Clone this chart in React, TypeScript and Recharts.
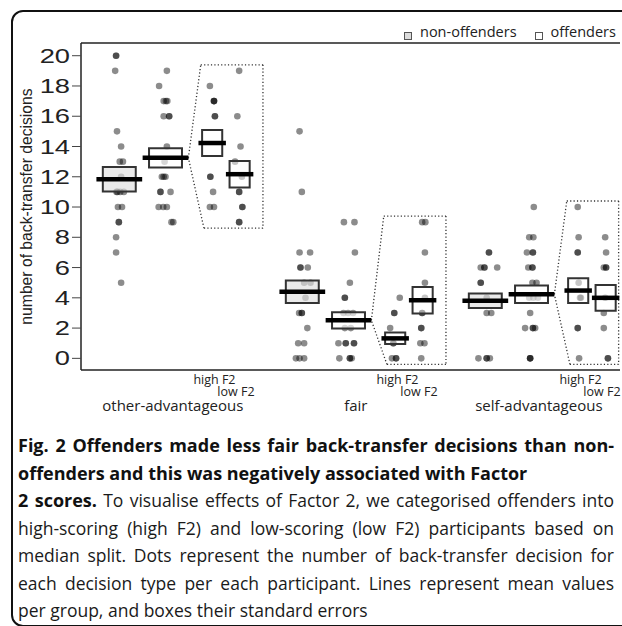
import React from 'react';
import { ScatterChart, Scatter, XAxis, YAxis, ReferenceArea, ReferenceLine } from 'recharts';

// decision types along the x axis, four columns inside each
const decisionTypes = ['other-advantageous', 'fair', 'self-advantageous'];
const groupNames = ['non-offenders', 'offenders', 'high F2', 'low F2'];
const groupOffsets = [0, 1.01, 2.03, 2.63];
const typeSpacing = 4;
const typeLabelOffset = 1.17;
const highLabelShift = 0.05;
const lowLabelShift = -0.08;

const yTicks = [0, 2, 4, 6, 8, 10, 12, 14, 16, 18, 20];
const X_MIN = -0.837;
const X_MAX = 10.944;
const Y_MIN = -0.77;
const Y_MAX = 20.84;

// group means and standard errors: [non-offenders, offenders, high F2, low F2]
const meansOther = [11.83, 13.25, 14.23, 12.17];
const seOther = [0.81, 0.64, 0.86, 0.88];
const meansFair = [4.4, 2.51, 1.32, 3.84];
const seFair = [0.75, 0.53, 0.38, 0.88];
const meansSelf = [3.8, 4.23, 4.48, 4.0];
const seSelf = [0.48, 0.58, 0.82, 0.85];

// participant dots, [x position, number of decisions]
const otherNon = [[-0.07, 20], [-0.07, 20], [-0.09, 19], [-0.05, 15], [0.04, 14], [0.01, 13], [0.08, 13], [0.04, 12], [-0.06, 11], [-0.04, 11], [0.02, 11], [0.1, 11], [-0.03, 10], [0.06, 10], [-0.01, 9], [-0.01, 9], [-0.07, 8], [-0.07, 7], [0.04, 5]];
const otherOff = [[1.04, 19], [0.87, 18], [0.97, 17], [1.02, 17], [1.05, 17], [0.97, 16], [1.09, 16], [1.09, 16], [1.04, 14], [0.99, 13], [0.93, 12], [0.97, 12], [1.01, 12], [0.9, 11], [0.9, 11], [1.12, 11], [0.86, 10], [0.96, 10], [1.04, 10], [1.14, 9], [1.18, 9]];
const otherHigh = [[1.98, 18], [2.07, 17], [2.07, 17], [2.07, 17], [2.09, 16], [2.09, 16], [1.99, 12], [1.99, 12], [2.05, 11], [1.98, 10], [2.07, 10]];
const otherLow = [[2.62, 19], [2.58, 16], [2.65, 14], [2.53, 13], [2.68, 12], [2.62, 11], [2.62, 11], [2.69, 10], [2.69, 10], [2.62, 9], [2.62, 9]];

const fairNon = [[3.94, 15], [3.99, 11], [3.94, 7], [4.17, 7], [3.96, 6], [3.96, 6], [4.12, 6], [4.04, 5], [4.18, 5], [4.07, 4], [3.93, 3], [3.99, 3], [3.99, 3], [4.11, 2], [3.91, 1], [4.04, 1], [3.86, 0], [3.94, 0], [4.04, 0]];
const fairOff = [[4.91, 9], [5.14, 9], [5.15, 7], [5.04, 5], [4.93, 4], [4.93, 4], [4.9, 3], [5.0, 3], [5.11, 3], [4.93, 2], [5.06, 2], [4.79, 1], [4.95, 1], [4.95, 1], [5.13, 1], [5.13, 1], [4.81, 0], [5.04, 0], [5.04, 0], [5.08, 0]];
const fairHigh = [[6.13, 4], [6.01, 3], [6.01, 3], [5.92, 2], [5.99, 1], [5.99, 1], [5.96, 0], [6.05, 0], [6.05, 0]];
const fairLow = [[6.62, 9], [6.69, 9], [6.68, 7], [6.68, 5], [6.68, 4], [6.62, 3], [6.62, 3], [6.6, 2], [6.6, 2], [6.58, 1], [6.67, 1], [6.6, 0]];

const selfNon = [[8.08, 7], [8.08, 7], [7.9, 6], [7.98, 6], [7.98, 6], [8.26, 6], [7.9, 5], [7.9, 5], [8.03, 4], [8.03, 3], [8.13, 3], [7.85, 0], [8.03, 0], [8.03, 0], [8.1, 0]];
const selfOff = [[9.06, 10], [8.96, 8], [9.05, 8], [8.91, 7], [9.04, 7], [9.04, 7], [8.94, 6], [9.03, 6], [9.03, 6], [9.03, 5], [9.12, 5], [8.96, 4], [9.05, 4], [9.15, 4], [8.98, 3], [8.87, 2], [9.04, 2], [9.04, 2], [9.09, 2], [8.98, 0], [8.98, 0], [8.98, 0]];
const selfHigh = [[10.02, 10], [10.04, 8], [10.02, 7], [10.02, 7], [10.04, 5], [10.07, 4], [10.09, 4], [10.02, 2], [10.02, 2], [10.05, 0]];
const selfLow = [[10.62, 8], [10.64, 7], [10.59, 6], [10.64, 6], [10.64, 6], [10.62, 4], [10.59, 3], [10.59, 2], [10.68, 0], [10.68, 0]];

const types = [
  { dots: [otherNon, otherOff, otherHigh, otherLow], means: meansOther, se: seOther },
  { dots: [fairNon, fairOff, fairHigh, fairLow], means: meansFair, se: seFair },
  { dots: [selfNon, selfOff, selfHigh, selfLow], means: meansSelf, se: seSelf },
];

const legendItems = [
  { name: groupNames[0], fill: '#dcdcdc' },
  { name: groupNames[1], fill: '#ffffff' },
];

// x axis labels: high F2 / low F2 under the split columns, type name below
const xLabels: { x: number; text: string; row: number }[] = [];
decisionTypes.forEach((t, i) => {
  xLabels.push({ x: i * typeSpacing + groupOffsets[2] + highLabelShift, text: groupNames[2], row: 0 });
  xLabels.push({ x: i * typeSpacing + groupOffsets[3] + lowLabelShift, text: groupNames[3], row: 1 });
  xLabels.push({ x: i * typeSpacing + typeLabelOffset, text: t, row: 2 });
});

const SANS = '"Open Sans", "Noto Sans", sans-serif';
const ARIAL = '"Liberation Sans", Arial, sans-serif';

const Dot = (props: any) => (
  <circle cx={props.cx} cy={props.cy} r={3.3} fill="#000" fillOpacity={0.45} />
);

const YTick = (props: any) => {
  const { x, y, payload } = props;
  return (
    <g transform={`translate(${x},${y})`}>
      <text transform="scale(1.4,1)" textAnchor="end" dy="0.36em" fontSize={19.5} fontFamily={ARIAL} fill="#222">
        {payload.value}
      </text>
    </g>
  );
};

const XTick = (props: any) => {
  const { x, y, payload } = props;
  const lab = xLabels.find(l => Math.abs(l.x - payload.value) < 1e-6);
  if (!lab) return <g />;
  const dy = lab.row === 0 ? 13.5 : lab.row === 1 ? 25.7 : 40.7;
  return (
    <text x={x} y={y + dy} textAnchor="middle" fontSize={lab.row === 2 ? 15 : 12.5} fontFamily={SANS} fill="#222">
      {lab.text}
    </text>
  );
};

const captionLines = [
  { bold: 'Fig. 2 Offenders made less fair back-transfer decisions than non-', text: '', justify: true },
  { bold: 'offenders and this was negatively associated with Factor', text: '', justify: false },
  { bold: '2 scores.', text: ' To visualise effects of Factor 2, we categorised offenders into', justify: true },
  { bold: '', text: 'high-scoring (high F2) and low-scoring (low F2) participants based on', justify: true },
  { bold: '', text: 'median split. Dots represent the number of back-transfer decision for', justify: true },
  { bold: '', text: 'each decision type per each participant. Lines represent mean values', justify: true },
  { bold: '', text: 'per group, and boxes their standard errors', justify: false },
];

export default function App() {
  return (
    <div style={{ position: 'relative', width: 622, height: 626, overflow: 'hidden', background: '#fff' }}>
      <style>{'body{margin:0}'}</style>

      {/* outer figure frame */}
      <div style={{ position: 'absolute', left: 11, top: 10, width: 720, height: 613, border: '2px solid #111', borderRadius: 12 }} />

      <div style={{ position: 'absolute', left: 0, top: 0 }}>
        <ScatterChart width={622} height={420} margin={{ top: 43, right: 2, bottom: 0, left: 0 }}>
          <XAxis
            type="number"
            dataKey="x"
            domain={[X_MIN, X_MAX]}
            allowDataOverflow
            ticks={xLabels.map(l => l.x)}
            interval={0}
            tick={<XTick />}
            tickLine={false}
            tickSize={0}
            tickMargin={0}
            height={50}
            axisLine={{ stroke: '#222', strokeWidth: 1.5 }}
          />
          <YAxis
            type="number"
            dataKey="y"
            domain={[Y_MIN, Y_MAX]}
            allowDataOverflow
            ticks={yTicks}
            interval={0}
            width={81}
            tickSize={9}
            tickMargin={2}
            tick={<YTick />}
            tickLine={{ stroke: '#444', strokeWidth: 1 }}
            axisLine={{ stroke: '#222', strokeWidth: 1.5 }}
            label={{
              value: 'number of back-transfer decisions',
              angle: -90,
              position: 'insideLeft',
              offset: 26,
              style: { textAnchor: 'middle', fontSize: 15.7, fontFamily: ARIAL, fill: '#222' },
            }}
          />
          <ReferenceLine y={Y_MAX} stroke="#222" strokeWidth={1.5} ifOverflow="visible" />

          {types.map((t, i) =>
            t.dots.map((col, j) => (
              <Scatter
                key={`dots-${i}-${j}`}
                data={col.map(d => ({ x: d[0], y: d[1] }))}
                shape={Dot}
                isAnimationActive={false}
              />
            ))
          )}

          {types.map((t, i) =>
            t.means.map((m, j) => {
              const cx = i * typeSpacing + groupOffsets[j];
              const split = j >= 2;
              const bw = split ? 0.22 : 0.36;
              return (
                <ReferenceArea
                  key={`box-${i}-${j}`}
                  x1={cx - bw}
                  x2={cx + bw}
                  y1={m - t.se[j]}
                  y2={m + t.se[j]}
                  fill={j === 0 ? '#dedede' : '#ffffff'}
                  fillOpacity={split ? 0.5 : 0.65}
                  stroke="#333"
                  strokeWidth={2}
                  strokeOpacity={1}
                  zIndex={700}
                />
              );
            })
          )}

          {types.map((t, i) =>
            t.means.map((m, j) => {
              const cx = i * typeSpacing + groupOffsets[j];
              const lw = j >= 2 ? 0.3 : 0.5;
              return (
                <ReferenceLine
                  key={`mean-${i}-${j}`}
                  segment={[{ x: cx - lw, y: m }, { x: cx + lw, y: m }]}
                  stroke="#000"
                  strokeWidth={4.5}
                  zIndex={800}
                />
              );
            })
          )}

          {/* dotted outline linking offenders to their F2 split */}
          {types.map((t, i) => {
            const base = i * typeSpacing;
            const ox = base + groupOffsets[1];
            const hx = base + groupOffsets[2];
            const lx = base + groupOffsets[3];
            const vals = [...t.dots[2], ...t.dots[3]].map(d => d[1]);
            const top = Math.max(...vals) + 0.4;
            const bottom = Math.min(...vals) - 0.4;
            const right = Math.min(lx + 0.51, X_MAX - 0.03);
            const pts = [
              { x: hx - 0.25, y: top },
              { x: right, y: top },
              { x: right, y: bottom },
              { x: hx - 0.18, y: bottom },
              { x: ox + 0.5, y: t.means[1] },
              { x: hx - 0.25, y: top },
            ];
            return pts.slice(0, -1).map((p, k) => (
              <ReferenceLine
                key={`poly-${i}-${k}`}
                segment={[p, pts[k + 1]]}
                stroke="#333"
                strokeWidth={1.3}
                strokeDasharray="1.2 2.2"
                ifOverflow="visible"
                zIndex={750}
              />
            ));
          })}
        </ScatterChart>
      </div>

      {/* legend */}
      <div style={{ position: 'absolute', top: 24, left: 404, display: 'flex', alignItems: 'flex-start', fontFamily: SANS, fontSize: 14.5, lineHeight: '16px', color: '#222' }}>
        {legendItems.map((it, k) => (
          <div key={it.name} style={{ display: 'flex', alignItems: 'flex-start', marginLeft: k === 0 ? 0 : 18 }}>
            <div style={{ width: 8, height: 8, marginTop: 8, marginRight: 8, boxSizing: 'border-box', border: '1px solid #555', background: it.fill }} />
            <span>{it.name}</span>
          </div>
        ))}
      </div>

      {/* caption */}
      <div style={{ position: 'absolute', left: 18, top: 432, width: 596, fontFamily: SANS, fontSize: 17.5, lineHeight: '27.5px', color: '#1a1a1a' }}>
        {captionLines.map((l, k) => (
          <div key={k} style={{ height: 27.5, overflow: 'visible', textAlign: l.justify ? 'justify' : 'left', textAlignLast: l.justify ? 'justify' : 'left', whiteSpace: 'nowrap' } as any}>
            {l.bold && <span style={{ fontWeight: 700, fontSize: 18, color: '#111' }}>{l.bold}</span>}
            {l.text && <span>{l.text}</span>}
          </div>
        ))}
      </div>
    </div>
  );
}
